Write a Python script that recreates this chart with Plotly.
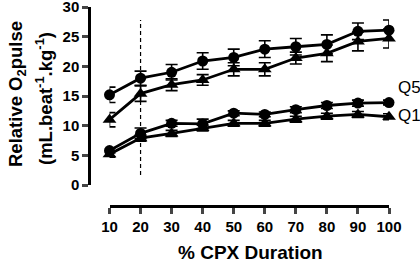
import plotly.graph_objects as go

x_pct = [10, 20, 30, 40, 50, 60, 70, 80, 90, 100]

q5_circle = [15.2, 18.0, 19.0, 20.9, 21.5, 22.9, 23.3, 23.7, 25.9, 26.1]
q5_circle_err = [1.3, 1.2, 1.3, 1.4, 1.4, 1.4, 1.4, 1.6, 1.4, 1.7]
q5_tri = [11.0, 15.4, 16.9, 17.7, 19.5, 19.5, 21.4, 22.2, 24.2, 24.7]
q5_tri_err = [1.2, 1.3, 1.0, 0.9, 1.1, 1.1, 1.0, 1.4, 1.6, 1.6]

q1_circle = [5.8, 8.7, 10.4, 10.3, 12.1, 11.9, 12.7, 13.4, 13.8, 13.9]
q1_circle_err = [0.4, 0.9, 0.5, 0.8, 0.4, 0.4, 0.5, 0.5, 0.5, 0.4]
q1_tri = [5.2, 7.9, 8.7, 9.6, 10.4, 10.4, 11.1, 11.6, 11.9, 11.5]
q1_tri_err = [0.5, 0.5, 0.5, 0.5, 0.5, 0.5, 0.5, 0.5, 0.5, 0.5]

x_ticks = [10, 20, 30, 40, 50, 60, 70, 80, 90, 100]
y_ticks = [0, 5, 10, 15, 20, 25, 30]

marker_line_x = [20, 20]
marker_line_y = [1.7, 27.8]

W, H = 420, 261
def px(xp):
    return xp / W
def py(yp):
    return (H - yp) / H

FONT = "Liberation Sans, Arial, sans-serif"

fig = go.Figure()

def add_series(y, err, symbol, size):
    fig.add_trace(go.Scatter(
        x=x_pct, y=y, mode="lines+markers",
        line=dict(color="black", width=2.8),
        marker=dict(symbol=symbol, size=size, color="black"),
        error_y=dict(type="data", array=err, visible=True, color="black",
                     thickness=1.6, width=6),
        cliponaxis=False, showlegend=False,
    ))

add_series(q5_tri, q5_tri_err, "triangle-up", 12)
add_series(q5_circle, q5_circle_err, "circle", 11)
add_series(q1_tri, q1_tri_err, "triangle-up", 12)
add_series(q1_circle, q1_circle_err, "circle", 11)

fig.add_trace(go.Scatter(
    x=marker_line_x, y=marker_line_y, mode="lines",
    line=dict(color="black", width=1.2, dash="4px,3px"),
    showlegend=False, cliponaxis=False,
))

fig.update_layout(
    width=W, height=H,
    margin=dict(l=0, r=0, t=0, b=0, autoexpand=False),
    paper_bgcolor="white", plot_bgcolor="white",
    font=dict(family=FONT, color="black"),
    xaxis=dict(
        domain=[px(109.5), px(389)], range=[10, 100],
        anchor="free", position=py(206),
        tickvals=x_ticks, ticks="outside", ticklen=6, tickwidth=2.5,
        showline=True, linewidth=2.5, linecolor="black",
        showgrid=False, zeroline=False, ticklabeloverflow="allow",
        tickfont=dict(size=15, family=FONT, weight="bold"),
    ),
    yaxis=dict(
        domain=[py(185), py(7)], range=[0, 30.001],
        anchor="free", position=px(89),
        tickvals=y_ticks, ticks="outside", ticklen=6, tickwidth=2.5,
        showline=True, linewidth=2.5, linecolor="black",
        showgrid=False, zeroline=False, ticklabeloverflow="allow",
        tickfont=dict(size=15, family=FONT, weight="bold"),
    ),
    annotations=[
        dict(xref="paper", yref="paper", x=px(17), y=py(94),
             text="<b>Relative O<sub>2</sub>pulse</b>", showarrow=False,
             textangle=-90, font=dict(size=18.5, family=FONT),
             xanchor="center", yanchor="middle"),
        dict(xref="paper", yref="paper", x=px(44), y=py(99),
             text="<b>(mL.beat<sup>-1</sup>.kg<sup>-1</sup>)</b>", showarrow=False,
             textangle=-90, font=dict(size=18.5, family=FONT),
             xanchor="center", yanchor="middle"),
        dict(xref="paper", yref="paper", x=px(250), y=py(252),
             text="<b>% CPX Duration</b>", showarrow=False,
             font=dict(size=19, family=FONT),
             xanchor="center", yanchor="middle"),
        dict(xref="paper", yref="paper", x=px(396), y=py(87),
             text="Q5", showarrow=False, font=dict(size=17, family=FONT),
             xanchor="left", yanchor="middle"),
        dict(xref="paper", yref="paper", x=px(396), y=py(115),
             text="Q1", showarrow=False, font=dict(size=17, family=FONT),
             xanchor="left", yanchor="middle"),
    ],
)

fig.write_html("out.html", config={"displayModeBar": False},
               post_script="document.body.style.margin='0';")
